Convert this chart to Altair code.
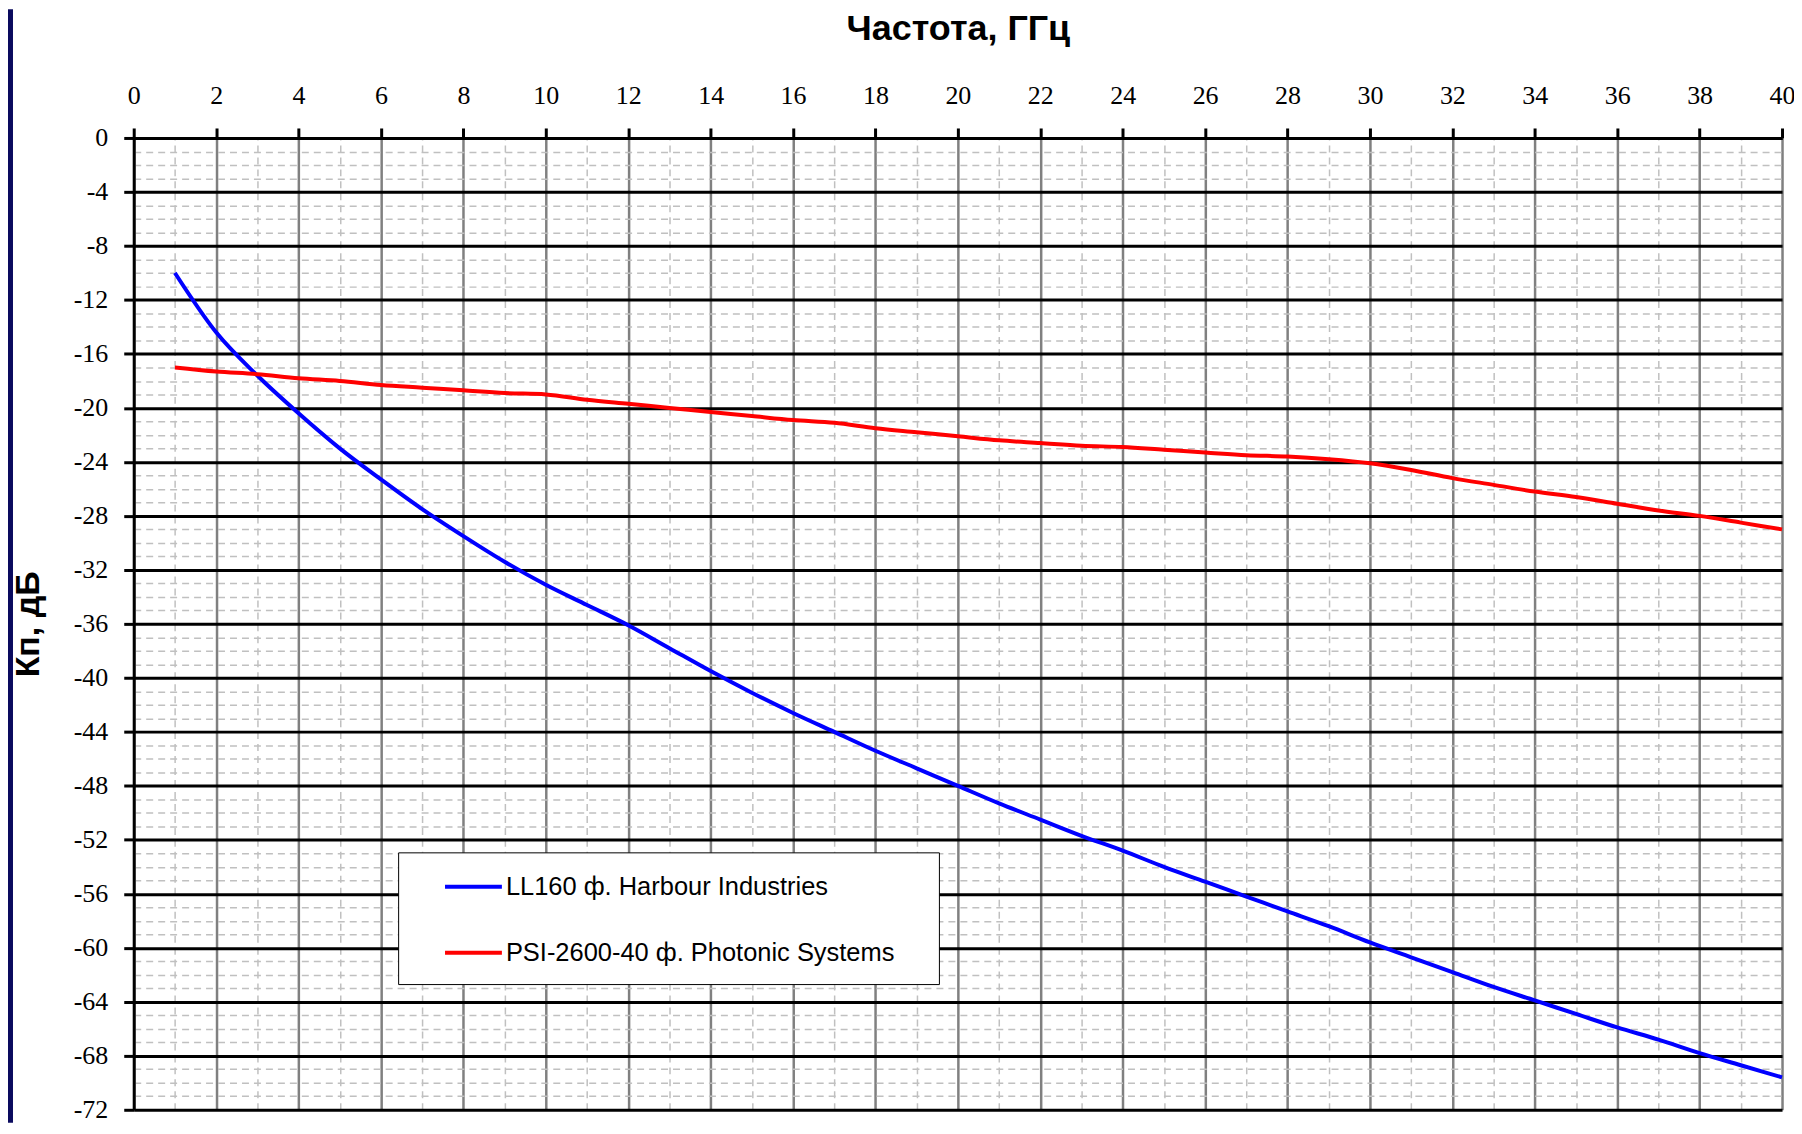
import altair as alt
import pandas as pd

freq = list(range(1, 41))
ll160 = [-10.0, -14.4, -17.6, -20.4, -23.0, -25.3, -27.5, -29.5, -31.4, -33.1,
         -34.6, -36.1, -37.8, -39.5, -41.1, -42.6, -44.0, -45.4, -46.7, -48.0,
         -49.3, -50.5, -51.7, -52.8, -54.0, -55.1, -56.2, -57.3, -58.4, -59.6,
         -60.7, -61.8, -62.9, -63.9, -64.9, -65.9, -66.8, -67.8, -68.7, -69.6]
psi = [-17.0, -17.3, -17.5, -17.8, -18.0, -18.3, -18.5, -18.7, -18.9, -19.0,
       -19.4, -19.7, -20.0, -20.3, -20.6, -20.9, -21.1, -21.5, -21.8, -22.1,
       -22.4, -22.6, -22.8, -22.9, -23.1, -23.3, -23.5, -23.6, -23.8, -24.1,
       -24.6, -25.2, -25.7, -26.2, -26.6, -27.1, -27.6, -28.0, -28.5, -29.0]
series_names = ["LL160 ф. Harbour Industries", "PSI-2600-40 ф. Photonic Systems"]
series_colors = ["#0000ff", "#ff0000"]
x_ticks = list(range(0, 41))
y_ticks = list(range(-72, 1))

rows = []
for name, vals in zip(series_names, [ll160, psi]):
    for f, v in zip(freq, vals):
        rows.append({"freq": f, "kp": v, "series": name})
df = pd.DataFrame(rows)

W, H = 1652, 974

x_axis = alt.Axis(
    orient="top", values=x_ticks, title="Частота, ГГц",
    labelExpr="datum.value % 2 === 0 ? toString(datum.value) : ''",
    labelFont="Liberation Serif", labelFontSize=26, labelColor="black",
    labelPadding=20, labelFlush=False, labelOverlap=False,
    tickColor="black", tickWidth=3,
    tickSize={"condition": {"test": "datum.value % 2 === 0", "value": 10}, "value": 0},
    domainColor="black", domainWidth=3,
    grid=True,
    gridColor={"condition": {"test": "datum.value % 2 === 0", "value": "#808080"}, "value": "#c0c0c0"},
    gridWidth={"condition": {"test": "datum.value % 2 === 0", "value": 2.5}, "value": 1.5},
    gridDash={"condition": {"test": "datum.value % 2 === 0", "value": []}, "value": [7, 5]},
    titleFont="Liberation Sans", titleFontSize=36, titleFontWeight="bold", titleColor="black",
    titleX=W / 2, titleY=-110, titleBaseline="middle", titleAlign="center",
)
y_axis = alt.Axis(
    orient="left", values=y_ticks, title="Кп, дБ",
    labelExpr="datum.value % 4 === 0 ? toString(datum.value) : ''",
    labelFont="Liberation Serif", labelFontSize=26, labelColor="black",
    labelPadding=16, labelFlush=False, labelOverlap=False, labelBaseline="middle",
    tickColor="black", tickWidth=3,
    tickSize={"condition": {"test": "datum.value % 4 === 0", "value": 10}, "value": 0},
    domainColor="black", domainWidth=3,
    grid=True,
    gridColor={"condition": {"test": "datum.value % 4 === 0", "value": "black"}, "value": "#c0c0c0"},
    gridWidth={"condition": {"test": "datum.value % 4 === 0", "value": 3}, "value": 1.5},
    gridDash={"condition": {"test": "datum.value % 4 === 0", "value": []}, "value": [7, 5]},
    titleFont="Liberation Sans", titleFontSize=34, titleFontWeight="bold", titleColor="black",
    titleX=-105, titleY=H / 2, titleBaseline="middle", titleAlign="center", titleAngle=270,
)

# invisible spacer title that widens the legend frame to the reference's width
spacer = "0" * 120
lines = alt.Chart(df).mark_line(strokeWidth=4, interpolate="monotone").encode(
    x=alt.X("freq:Q", scale=alt.Scale(domain=[0, 40], nice=False, zero=False), axis=x_axis),
    y=alt.Y("kp:Q", scale=alt.Scale(domain=[-72, 0], nice=False), axis=y_axis),
    color=alt.Color(
        "series:N",
        scale=alt.Scale(domain=series_names, range=series_colors),
        sort=series_names,
        legend=alt.Legend(
            title=spacer, titleOrient="bottom", titleFontSize=8, titlePadding=6,
            titleOpacity=0, titleLimit=2000, titleFont="Liberation Sans",
            orient="none", legendX=265, legendY=716,
            symbolType="stroke", symbolSize=3249, symbolStrokeWidth=4,
            symbolOffset=41, labelOffset=2, rowPadding=22, padding=4,
            labelFont="Liberation Sans", labelFontSize=25.5, labelColor="black",
            labelLimit=2000,
            strokeColor="black", fillColor="white",
        ),
    ),
)

strip = alt.Chart(pd.DataFrame({"k": [0]})).mark_rect(color="#0a0a5e").encode(
    x=alt.value(-126), x2=alt.value(-121), y=alt.value(-129), y2=alt.value(H + 13)
)

chart = alt.layer(strip, lines).properties(
    width=W, height=H,
    autosize=alt.AutoSizeParams(type="none"),
    padding={"left": 126, "top": 129, "right": 12, "bottom": 13},
    background="white",
).configure_view(strokeWidth=0)

chart.save("out.html", embed_options={"renderer": "svg", "actions": False})
